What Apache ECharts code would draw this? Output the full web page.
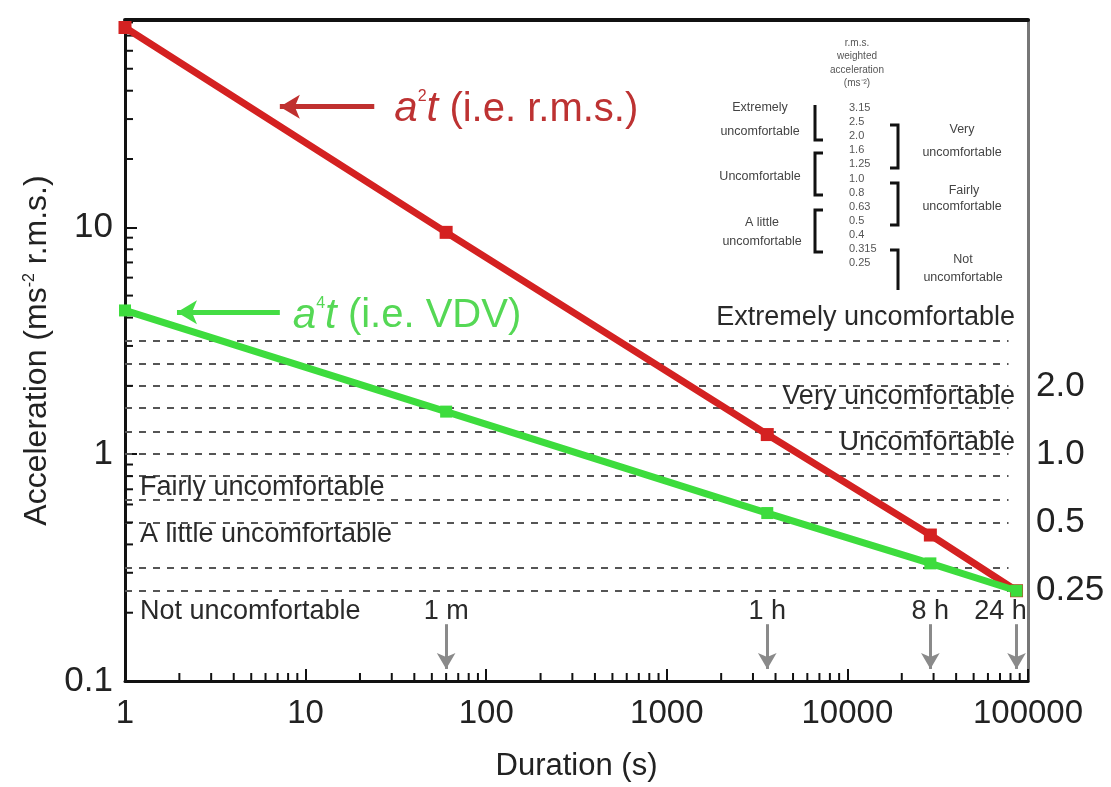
<!DOCTYPE html>
<html><head><meta charset="utf-8">
<script src="https://cdn.jsdelivr.net/npm/echarts@6/dist/echarts.min.js"></script>
<style>html,body{margin:0;padding:0;background:#fff}#c{width:1111px;height:787px}</style>
</head><body><div id="c"></div>
<script>
// ---- data ----
const durations = [1, 60, 3600, 28800, 86400];
const rmsValues = [76, 9.5, 1.22, 0.44, 0.25];      // a^2 t (r.m.s.)
const vdvValues = [4.3, 1.54, 0.55, 0.33, 0.25];    // a^4 t (VDV)
const xTickLabels = ['1', '10', '100', '1000', '10000', '100000'];
const yTickLabels = ['0.1', '1', '10'];
const comfortLevels = [3.15, 2.5, 2.0, 1.6, 1.25, 1.0, 0.8, 0.63, 0.5, 0.315, 0.25];
const rightLabelValues = [2.0, 1.0, 0.5, 0.25];
const rightLabelTexts = ['2.0', '1.0', '0.5', '0.25'];
const timeMarks = [60, 3600, 28800, 86400];
const timeMarkLabels = ['1 m', '1 h', '8 h', '24 h'];
const zoneRightNames = ['Extremely uncomfortable', 'Very uncomfortable', 'Uncomfortable'];
const zoneRightValues = [4.0, 1.8, 1.13];
const zoneLeftNames = ['Fairly uncomfortable', 'A little uncomfortable', 'Not uncomfortable'];
const zoneLeftValues = [0.716, 0.444, 0.203];
const insetValues = ['3.15', '2.5', '2.0', '1.6', '1.25', '1.0', '0.8', '0.63', '0.5', '0.4', '0.315', '0.25'];
const insetHeader = ['r.m.s.', 'weighted', 'acceleration', '(ms\u207B\u00B2)'];
const minorMultipliers = [2, 3, 4, 5, 6, 7, 8, 9];
const xDecades = [1, 10, 100, 1000, 10000];
const yDecades = [0.1, 1, 10];

const X_MIN = 1, X_MAX = 100000, Y_MIN = 0.1, Y_MAX = 82;
const FONT = '"Liberation Sans", Arial, sans-serif';

const xMinor = [], yMinor = [];
xDecades.forEach(d => minorMultipliers.forEach(m => xMinor.push([d * m, Y_MIN])));
yDecades.forEach(d => minorMultipliers.forEach(m => { if (d * m < Y_MAX) yMinor.push([X_MIN, d * m]); }));

const chart = echarts.init(document.getElementById('c'), null, {renderer: 'canvas'});

const RED_TXT = '#bd3232', GREEN_TXT = '#55d855';
// annotation layout (anchors in data space)
const annotations = [];
zoneRightNames.forEach((t, i) => annotations.push({x: 84700, y: zoneRightValues[i], text: t, align: 'right', size: 27, color: '#2a2a2a'}));
zoneLeftNames.forEach((t, i) => annotations.push({x: 1.21, y: zoneLeftValues[i], text: t, align: 'left', size: 27, color: '#2a2a2a'}));
timeMarks.forEach((t, i) => annotations.push({x: t, y: 0.203, text: timeMarkLabels[i], align: 'center', size: 27, color: '#2a2a2a', dx: i === 3 ? -16 : 0}));
rightLabelValues.forEach((v, i) => annotations.push({x: X_MAX, y: v, text: rightLabelTexts[i], align: 'left', size: 35, color: '#222', dx: 8}));
annotations.push({x: 31, y: 33, align: 'left', color: RED_TXT,
  text: '{i|a}{s|2}{i|t} {n|(i.e. r.m.s.)}',
  rich: {i: {fontSize: 42, fontStyle: 'italic', color: RED_TXT, fontFamily: FONT},
         s: {fontSize: 16, color: RED_TXT, verticalAlign: 'top', lineHeight: 20, fontFamily: FONT},
         n: {fontSize: 40, color: RED_TXT, fontFamily: FONT}}});
annotations.push({x: 8.5, y: 4.05, align: 'left', color: GREEN_TXT,
  text: '{i|a}{s|4}{i|t} {n|(i.e. VDV)}',
  rich: {i: {fontSize: 42, fontStyle: 'italic', color: GREEN_TXT, fontFamily: FONT},
         s: {fontSize: 16, color: GREEN_TXT, verticalAlign: 'top', lineHeight: 20, fontFamily: FONT},
         n: {fontSize: 40, color: GREEN_TXT, fontFamily: FONT}}});

const dashedLines = comfortLevels.map(v => [{coord: [X_MIN, v]}, {coord: [78000, v]}]);
const timeArrows = timeMarks.map(t => [{coord: [t, 0.178]}, {coord: [t, 0.113]}]);

// inset table graphics (static picture element)
const insetG = [];
insetHeader.forEach((t, i) => insetG.push({type: 'text', x: 857, y: 43 + i * 13.5, style: {text: t, font: '10px ' + FONT, fill: '#555', align: 'center', verticalAlign: 'middle'}}));
insetValues.forEach((t, i) => insetG.push({type: 'text', x: 849, y: 108 + i * 14.1, style: {text: t, font: '11px ' + FONT, fill: '#555', align: 'left', verticalAlign: 'middle'}}));
[['Extremely', 760, 108], ['uncomfortable', 760, 132], ['Uncomfortable', 760, 177], ['A little', 762, 223], ['uncomfortable', 762, 242],
 ['Very', 962, 130], ['uncomfortable', 962, 153], ['Fairly', 964, 191], ['uncomfortable', 962, 207], ['Not', 963, 260], ['uncomfortable', 963, 278]]
  .forEach(a => insetG.push({type: 'text', x: a[1], y: a[2], style: {text: a[0], font: '12.5px ' + FONT, fill: '#444', align: 'center', verticalAlign: 'middle'}}));
[[[815, 105], [815, 140], [823, 140]],
 [[823, 153], [815, 153], [815, 195], [823, 195]],
 [[823, 210], [815, 210], [815, 252], [823, 252]],
 [[890, 125], [898, 125], [898, 168], [890, 168]],
 [[890, 183], [898, 183], [898, 225], [890, 225]],
 [[890, 250], [898, 250], [898, 290]]]
  .forEach(p => insetG.push({type: 'polyline', shape: {points: p}, style: {stroke: '#111', lineWidth: 3, fill: null}}));

const option = {
  animation: false,
  backgroundColor: '#fff',
  grid: {left: 125, top: 20, right: 83, bottom: 105, containLabel: false},
  xAxis: [{
    type: 'log', logBase: 10, min: X_MIN, max: X_MAX,
    name: 'Duration (s)', nameLocation: 'middle', nameGap: 70,
    nameTextStyle: {fontSize: 31, color: '#222', fontFamily: FONT},
    axisLine: {lineStyle: {color: '#111', width: 3}},
    axisTick: {inside: true, length: 12, lineStyle: {color: '#111', width: 2}},
    axisLabel: {fontSize: 33, color: '#222', fontFamily: FONT, margin: 16,
      formatter: v => { const k = Math.round(Math.log10(v)); return xTickLabels[k] !== undefined && Math.abs(Math.log10(v) - k) < 1e-6 ? xTickLabels[k] : ''; }},
    splitLine: {show: false}
  }, {
    type: 'log', logBase: 10, min: X_MIN, max: X_MAX, position: 'top',
    axisLine: {lineStyle: {color: '#111', width: 4}}, axisTick: {show: false}, axisLabel: {show: false}, splitLine: {show: false}
  }],
  yAxis: [{
    type: 'log', logBase: 10, min: Y_MIN, max: Y_MAX,
    name: 'Acceleration (ms{sup|-2} r.m.s.)', nameLocation: 'middle', nameGap: 64, nameRotate: 90,
    nameTextStyle: {fontSize: 32, color: '#222', fontFamily: FONT,
      rich: {sup: {fontSize: 16, color: '#222', verticalAlign: 'top', lineHeight: 16, fontFamily: FONT}}},
    axisLine: {lineStyle: {color: '#111', width: 3}},
    axisTick: {inside: true, length: 12, lineStyle: {color: '#111', width: 2}},
    axisLabel: {fontSize: 35, color: '#222', fontFamily: FONT, margin: 12, showMaxLabel: false,
      formatter: v => { const k = Math.log10(v) + 1; const r = Math.round(k); return Math.abs(k - r) < 1e-6 && yTickLabels[r] !== undefined ? yTickLabels[r] : ''; }},
    splitLine: {show: false}
  }, {
    type: 'log', logBase: 10, min: Y_MIN, max: Y_MAX, position: 'right',
    axisLine: {lineStyle: {color: '#777', width: 3}}, axisTick: {show: false}, axisLabel: {show: false}, splitLine: {show: false}
  }],
  series: [
    {
      type: 'custom', name: 'xMinorTicks', coordinateSystem: 'cartesian2d', silent: true, clip: false, z: 5,
      data: xMinor, encode: {x: 0, y: 1},
      renderItem: (params, api) => { const p = api.coord([api.value(0), api.value(1)]);
        return {type: 'line', shape: {x1: p[0], y1: p[1], x2: p[0], y2: p[1] - 8}, style: {stroke: '#111', lineWidth: 2}}; }
    },
    {
      type: 'custom', name: 'yMinorTicks', coordinateSystem: 'cartesian2d', silent: true, clip: false, z: 5,
      data: yMinor, encode: {x: 0, y: 1},
      renderItem: (params, api) => { const p = api.coord([api.value(0), api.value(1)]);
        return {type: 'line', shape: {x1: p[0], y1: p[1], x2: p[0] + 8, y2: p[1]}, style: {stroke: '#111', lineWidth: 2}}; }
    },
    {
      type: 'line', name: 'a2t (r.m.s.)', data: durations.map((d, i) => [d, rmsValues[i]]),
      color: '#d42121', lineStyle: {width: 7, color: '#d42121'}, symbol: 'rect', symbolSize: 13,
      itemStyle: {color: '#d42121'}, z: 10,
      markLine: {silent: true, symbol: ['none', 'none'], label: {show: false}, animation: false,
        lineStyle: {type: [7, 7], color: '#555', width: 2}, data: dashedLines, z: 3}
    },
    {
      type: 'line', name: 'a4t (VDV)', data: durations.map((d, i) => [d, vdvValues[i]]),
      color: '#3ddc3d', lineStyle: {width: 7, color: '#3ddc3d'}, symbol: 'rect', symbolSize: 12,
      itemStyle: {color: '#3ddc3d'}, z: 11,
      markLine: {silent: true, symbol: ['none', 'arrow'], symbolSize: [14, 16], label: {show: false}, animation: false,
        lineStyle: {type: 'solid', color: '#8a8a8a', width: 3}, data: timeArrows}
    },
    {
      type: 'line', name: 'arrowRed', data: [], silent: true,
      markLine: {silent: true, symbol: ['none', 'arrow'], symbolSize: [18, 20], label: {show: false}, animation: false,
        lineStyle: {type: 'solid', color: '#c0302f', width: 5}, data: [[{coord: [24, 34]}, {coord: [7.2, 34]}]]}
    },
    {
      type: 'line', name: 'arrowGreen', data: [], silent: true,
      markLine: {silent: true, symbol: ['none', 'arrow'], symbolSize: [18, 20], label: {show: false}, animation: false,
        lineStyle: {type: 'solid', color: '#44dd44', width: 5}, data: [[{coord: [7.2, 4.22]}, {coord: [1.94, 4.22]}]]}
    },
    {
      type: 'custom', name: 'annotations', coordinateSystem: 'cartesian2d', silent: true, clip: false, z: 20,
      data: annotations.map((a, i) => [a.x, a.y, i]), encode: {x: 0, y: 1},
      renderItem: (params, api) => {
        const a = annotations[api.value(2)];
        const p = api.coord([api.value(0), api.value(1)]);
        const style = {text: a.text, x: 0, y: 0, align: a.align, verticalAlign: 'middle', fill: a.color};
        if (a.rich) { style.rich = a.rich; style.font = '40px ' + FONT; }
        else style.font = a.size + 'px ' + FONT;
        return {type: 'text', x: p[0] + (a.dx || 0), y: p[1], style: style};
      }
    }
  ],
  graphic: insetG
};
chart.setOption(option);
</script>
</body></html>
